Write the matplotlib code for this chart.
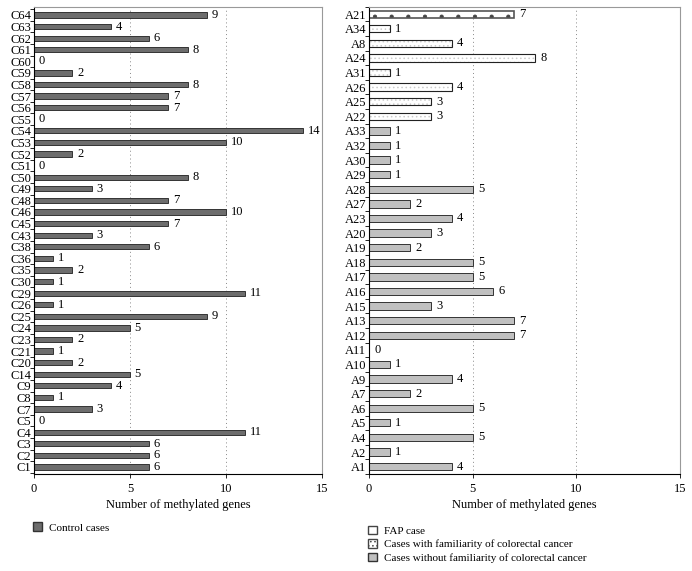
import matplotlib.pyplot as plt
from matplotlib.patches import Patch

plt.rcParams.update({
    "font.family": ["Liberation Serif", "DejaVu Serif"],
    "font.size": 9,
    "hatch.linewidth": 0.6,
})

# ---------------------------------------------------------
# DATA (bottom to top)
# ---------------------------------------------------------

control_labels = ["C1", "C2", "C3", "C4", "C5", "C7", "C8", "C9", "C14", "C20",
                  "C21", "C23", "C24", "C25", "C26", "C29", "C30", "C35", "C36", "C38",
                  "C43", "C45", "C46", "C48", "C49", "C50", "C51", "C52", "C53", "C54",
                  "C55", "C56", "C57", "C58", "C59", "C60", "C61", "C62", "C63", "C64"]
control_values = [6, 6, 6, 11, 0, 3, 1, 4, 5, 2,
                  1, 2, 5, 9, 1, 11, 1, 2, 1, 6,
                  3, 7, 10, 7, 3, 8, 0, 2, 10, 14,
                  0, 7, 7, 8, 2, 0, 8, 6, 4, 9]

case_labels = ["A1", "A2", "A4", "A5", "A6", "A7", "A9", "A10", "A11", "A12",
               "A13", "A15", "A16", "A17", "A18", "A19", "A20", "A23", "A27", "A28",
               "A29", "A30", "A32", "A33", "A22", "A25", "A26", "A31", "A24", "A8",
               "A34", "A21"]
case_values = [4, 1, 5, 1, 5, 2, 4, 1, 0, 7,
               7, 3, 6, 5, 5, 2, 3, 4, 2, 5,
               1, 1, 1, 1, 3, 3, 4, 1, 8, 4,
               1, 7]
# group: 0 = without familiarity, 1 = with familiarity, 2 = FAP
case_groups = [0] * 24 + [1] * 7 + [2]

fig = plt.figure(figsize=(6.92, 5.71), dpi=100)

ax1 = fig.add_axes([0.0491, 0.170, 0.416, 0.818])
ax2 = fig.add_axes([0.5332, 0.170, 0.4494, 0.818])


def style_axis(ax, labels, ylim):
    ax.set_xlim(0, 15)
    ax.set_ylim(*ylim)
    ax.set_xticks([0, 5, 10, 15])
    ax.set_yticks(range(len(labels)))
    ax.set_yticklabels(labels, fontsize=9)
    ax.set_yticks([i - 0.5 for i in range(len(labels) + 1)], minor=True)
    ax.tick_params(axis="y", which="major", length=0, pad=2)
    ax.tick_params(axis="y", which="minor", length=3, width=0.6)
    ax.tick_params(axis="x", length=3, width=0.6, labelsize=9)
    ax.set_xlabel("Number of methylated genes", fontsize=9, labelpad=3)
    for x in (5, 10):
        ax.axvline(x, color="#888888", linestyle=(0, (1, 3)), linewidth=0.7, zorder=0)
    for side in ("top", "right"):
        ax.spines[side].set_color("#999999")
        ax.spines[side].set_linewidth(0.8)
    for side in ("left", "bottom"):
        ax.spines[side].set_linewidth(0.8)


# =========================================================
# CONTROL CASES
# =========================================================

y1 = range(len(control_labels))
ax1.barh(y1, control_values, height=0.45, color="#6d6d6d",
         edgecolor="#333333", linewidth=0.7)
for y, v in zip(y1, control_values):
    ax1.text(v + 0.25, y, str(v), va="center", ha="left", fontsize=9)
style_axis(ax1, control_labels, (-0.6, 39.7))

# =========================================================
# CASES
# =========================================================

y2 = list(range(len(case_labels)))
for y, v, g in zip(y2, case_values, case_groups):
    if g == 0:
        ax2.barh(y, v, height=0.5, color="#c0c0c0", edgecolor="#333333", linewidth=0.7)
    elif g == 1:
        ax2.barh(y, v, height=0.5, color="white", edgecolor="#cccccc",
                 hatch="....", linewidth=0)
        ax2.barh(y, v, height=0.5, fill=False, edgecolor="#222222", linewidth=0.8)
    else:
        ax2.barh(y, v, height=0.5, color="white", edgecolor="#444444",
                 hatch=".", linewidth=0)
        ax2.barh(y, v, height=0.5, fill=False, edgecolor="#555555", linewidth=1.2)
    ax2.text(v + 0.25, y, str(v), va="center", ha="left", fontsize=9)
style_axis(ax2, case_labels, (-0.5, 31.5))

# =========================================================
# LEGENDS
# =========================================================

fig.legend(handles=[Patch(facecolor="#6d6d6d", edgecolor="#333333", label="Control cases")],
           loc="upper left", bbox_to_anchor=(0.048, 0.085), frameon=False,
           borderpad=0, borderaxespad=0,
           fontsize=8, handlelength=0.8, handleheight=0.8, handletextpad=0.6)

fig.legend(handles=[
    Patch(facecolor="white", edgecolor="#444444", hatch=".", label="FAP case"),
    Patch(facecolor="white", edgecolor="#444444", hatch="....",
          label="Cases with familiarity of colorectal cancer"),
    Patch(facecolor="#c0c0c0", edgecolor="#333333",
          label="Cases without familiarity of colorectal cancer")],
    loc="upper left", bbox_to_anchor=(0.532, 0.079), frameon=False,
    borderpad=0, borderaxespad=0,
    fontsize=8, handlelength=0.8, handleheight=0.8, handletextpad=0.6,
    labelspacing=0.3)

fig.savefig("out.png", dpi=100)
